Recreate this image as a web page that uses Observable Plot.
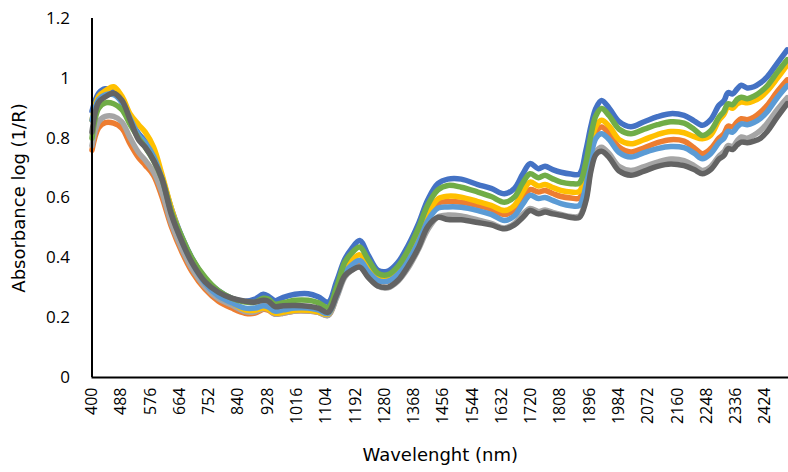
<!DOCTYPE html>
<html>
<head>
<meta charset="utf-8">
<script src="https://cdn.jsdelivr.net/npm/d3@7"></script>
<script src="https://cdn.jsdelivr.net/npm/@observablehq/plot@0.6"></script>
<style>
  html, body { margin: 0; padding: 0; background: #fff; }
  #chart { width: 788px; height: 472px; }
</style>
</head>
<body>
<div id="chart"></div>
<script>
const wavelengths = [400, 420, 440, 465, 490, 515, 540, 560, 585, 610, 640, 670, 700, 740, 780, 820, 860, 890, 915, 930, 950, 975, 1010, 1050, 1080, 1110, 1135, 1160, 1180, 1205, 1230, 1260, 1290, 1320, 1350, 1380, 1410, 1440, 1470, 1510, 1560, 1600, 1640, 1670, 1695, 1717, 1742, 1762, 1785, 1810, 1840, 1865, 1885, 1900, 1915, 1932, 1955, 1985, 2020, 2060, 2100, 2140, 2180, 2210, 2235, 2260, 2285, 2300, 2312, 2326, 2340, 2352, 2370, 2390, 2410, 2430, 2460, 2490];

const sample1 = [0.89, 0.95, 0.965, 0.955, 0.92, 0.86, 0.815, 0.79, 0.745, 0.67,
  0.56, 0.47, 0.40, 0.33, 0.29, 0.265, 0.255, 0.262, 0.278, 0.272,
  0.257, 0.268, 0.278, 0.28, 0.27, 0.252, 0.32, 0.395, 0.43, 0.458,
  0.41, 0.358, 0.356, 0.385, 0.44, 0.51, 0.595, 0.648, 0.663, 0.663,
  0.645, 0.632, 0.614, 0.632, 0.68, 0.715, 0.698, 0.706, 0.695, 0.686,
  0.68, 0.68, 0.76, 0.84, 0.9, 0.926, 0.9, 0.855, 0.838, 0.855,
  0.872, 0.882, 0.876, 0.858, 0.843, 0.862, 0.91, 0.925, 0.952, 0.948,
  0.965, 0.977, 0.968, 0.972, 0.985, 1.005, 1.05, 1.095];

const sample2 = [0.76, 0.835, 0.852, 0.85, 0.833, 0.78, 0.735, 0.71, 0.676, 0.605,
  0.50, 0.42, 0.355, 0.295, 0.255, 0.232, 0.215, 0.215, 0.228, 0.225,
  0.212, 0.215, 0.222, 0.222, 0.218, 0.208, 0.27, 0.345, 0.37, 0.385,
  0.355, 0.325, 0.322, 0.345, 0.395, 0.46, 0.535, 0.583, 0.588, 0.586,
  0.575, 0.563, 0.545, 0.56, 0.60, 0.628, 0.62, 0.625, 0.615, 0.605,
  0.60, 0.60, 0.665, 0.76, 0.82, 0.837, 0.815, 0.77, 0.754, 0.768,
  0.785, 0.795, 0.79, 0.768, 0.748, 0.765, 0.80, 0.815, 0.84, 0.838,
  0.855, 0.865, 0.862, 0.87, 0.887, 0.91, 0.955, 0.995];

const sample3 = [0.775, 0.855, 0.873, 0.873, 0.854, 0.8, 0.752, 0.726, 0.687, 0.62,
  0.51, 0.43, 0.365, 0.303, 0.263, 0.242, 0.22, 0.22, 0.23, 0.228,
  0.212, 0.215, 0.222, 0.222, 0.218, 0.207, 0.265, 0.335, 0.358, 0.37,
  0.338, 0.305, 0.30, 0.322, 0.365, 0.425, 0.495, 0.537, 0.543, 0.54,
  0.527, 0.515, 0.50, 0.515, 0.545, 0.565, 0.555, 0.56, 0.552, 0.545,
  0.538, 0.54, 0.60, 0.70, 0.755, 0.77, 0.748, 0.705, 0.692, 0.705,
  0.72, 0.73, 0.725, 0.708, 0.692, 0.705, 0.74, 0.755, 0.775, 0.772,
  0.792, 0.804, 0.80, 0.81, 0.826, 0.85, 0.895, 0.935];

const sample4 = [0.86, 0.94, 0.958, 0.972, 0.94, 0.88, 0.845, 0.82, 0.77, 0.68,
  0.56, 0.465, 0.395, 0.32, 0.275, 0.25, 0.226, 0.225, 0.232, 0.228,
  0.215, 0.218, 0.225, 0.225, 0.22, 0.212, 0.28, 0.36, 0.39, 0.41,
  0.37, 0.332, 0.33, 0.355, 0.405, 0.47, 0.548, 0.597, 0.606, 0.603,
  0.588, 0.575, 0.558, 0.575, 0.62, 0.653, 0.64, 0.645, 0.635, 0.625,
  0.62, 0.622, 0.69, 0.78, 0.84, 0.86, 0.84, 0.795, 0.781, 0.795,
  0.812, 0.822, 0.818, 0.805, 0.798, 0.81, 0.86, 0.88, 0.905, 0.90,
  0.915, 0.921, 0.918, 0.925, 0.937, 0.958, 1.0, 1.045];

const sample5 = [0.86, 0.93, 0.945, 0.945, 0.92, 0.865, 0.81, 0.785, 0.74, 0.665,
  0.545, 0.455, 0.385, 0.315, 0.272, 0.25, 0.232, 0.232, 0.24, 0.236,
  0.222, 0.226, 0.232, 0.232, 0.226, 0.214, 0.275, 0.35, 0.375, 0.391,
  0.355, 0.324, 0.322, 0.345, 0.39, 0.45, 0.525, 0.566, 0.57, 0.569,
  0.558, 0.545, 0.525, 0.54, 0.58, 0.609, 0.598, 0.602, 0.592, 0.581,
  0.574, 0.575, 0.64, 0.74, 0.8, 0.815, 0.795, 0.752, 0.737, 0.752,
  0.765, 0.772, 0.768, 0.75, 0.731, 0.748, 0.785, 0.80, 0.823, 0.82,
  0.838, 0.848, 0.845, 0.852, 0.866, 0.888, 0.935, 0.975];

const sample6 = [0.80, 0.90, 0.918, 0.915, 0.895, 0.845, 0.80, 0.77, 0.725, 0.665,
  0.55, 0.47, 0.40, 0.335, 0.29, 0.265, 0.252, 0.252, 0.265, 0.262,
  0.245, 0.25, 0.258, 0.258, 0.25, 0.235, 0.30, 0.385, 0.415, 0.436,
  0.395, 0.348, 0.344, 0.372, 0.425, 0.495, 0.578, 0.627, 0.642, 0.636,
  0.62, 0.605, 0.586, 0.603, 0.65, 0.681, 0.668, 0.676, 0.664, 0.653,
  0.648, 0.65, 0.72, 0.81, 0.875, 0.899, 0.875, 0.83, 0.815, 0.83,
  0.845, 0.855, 0.85, 0.83, 0.809, 0.825, 0.87, 0.89, 0.915, 0.912,
  0.93, 0.937, 0.932, 0.94, 0.955, 0.975, 1.02, 1.062];

const sample7 = [0.82, 0.92, 0.938, 0.95, 0.926, 0.86, 0.795, 0.77, 0.726, 0.665,
  0.54, 0.455, 0.385, 0.32, 0.285, 0.265, 0.255, 0.252, 0.258, 0.255,
  0.237, 0.24, 0.241, 0.238, 0.232, 0.218, 0.275, 0.34, 0.358, 0.369,
  0.335, 0.306, 0.302, 0.325, 0.372, 0.43, 0.505, 0.535, 0.528, 0.527,
  0.518, 0.51, 0.497, 0.51, 0.535, 0.558, 0.547, 0.553, 0.547, 0.542,
  0.535, 0.535, 0.59, 0.69, 0.745, 0.756, 0.735, 0.69, 0.676, 0.69,
  0.706, 0.714, 0.708, 0.695, 0.681, 0.695, 0.73, 0.742, 0.765, 0.762,
  0.778, 0.787, 0.785, 0.79, 0.80, 0.822, 0.87, 0.915];

const seriesNames = ["Sample 1", "Sample 2", "Sample 3", "Sample 4", "Sample 5", "Sample 6", "Sample 7"];
const seriesValues = [sample1, sample2, sample3, sample4, sample5, sample6, sample7];
const seriesColors = ["#4472C4", "#ED7D31", "#A5A5A5", "#FFC000", "#5B9BD5", "#70AD47", "#636363"];

const xTicks = [400, 488, 576, 664, 752, 840, 928, 1016, 1104, 1192, 1280, 1368, 1456, 1544, 1632, 1720, 1808, 1896, 1984, 2072, 2160, 2248, 2336, 2424];
const yTicks = [0, 0.2, 0.4, 0.6, 0.8, 1, 1.2];
const yTickLabels = ["0", "0.2", "0.4", "0.6", "0.8", "1", "1.2"];
const xTitle = "Wavelenght (nm)";
const yTitle = "Absorbance log (1/R)";

const rows = seriesNames.flatMap((name, i) =>
  wavelengths.map((w, j) => ({series: name, w, v: seriesValues[i][j]})));

const lineMarks = seriesNames.map((name, i) =>
  Plot.line(rows.filter(d => d.series === name), {
    x: "w", y: "v", stroke: seriesColors[i], strokeWidth: 5.5,
    curve: "catmull-rom", strokeLinejoin: "round", strokeLinecap: "round"
  }));

const chart = Plot.plot({
  width: 788,
  height: 472,
  marginLeft: 91.5,
  marginRight: 0,
  marginTop: 18,
  marginBottom: 95,
  style: {fontFamily: "'Open Sans', sans-serif", background: "#fff", overflow: "visible"},
  x: {domain: [400, 2494]},
  y: {domain: [0, 1.2]},
  marks: [
    ...lineMarks,
    Plot.ruleX([400], {stroke: "#000", strokeWidth: 2}),
    Plot.ruleY([0], {stroke: "#000", strokeWidth: 2}),
    Plot.axisY({ticks: yTicks, tickSize: 0, tickPadding: 22, fontSize: 17, fill: "#000",
      tickFormat: d => yTickLabels[yTicks.indexOf(d)], label: null}),
    Plot.axisX({ticks: xTicks, tickSize: 0, tickPadding: 10, tickRotate: -90, fontSize: 16, fill: "#000",
      tickFormat: d => String(d), label: null}),
    Plot.text([xTitle], {text: d => d, frameAnchor: "bottom", lineAnchor: "middle", dy: 78,
      fontSize: 18, fontFamily: "'DejaVu Sans', sans-serif", fill: "#000"}),
    Plot.text([yTitle], {text: d => d, frameAnchor: "left", textAnchor: "middle", lineAnchor: "middle",
      dx: -73, rotate: -90, fontSize: 18, fontFamily: "'DejaVu Sans', sans-serif", fill: "#000"})
  ]
});
document.getElementById("chart").appendChild(chart);
</script>
</body>
</html>
